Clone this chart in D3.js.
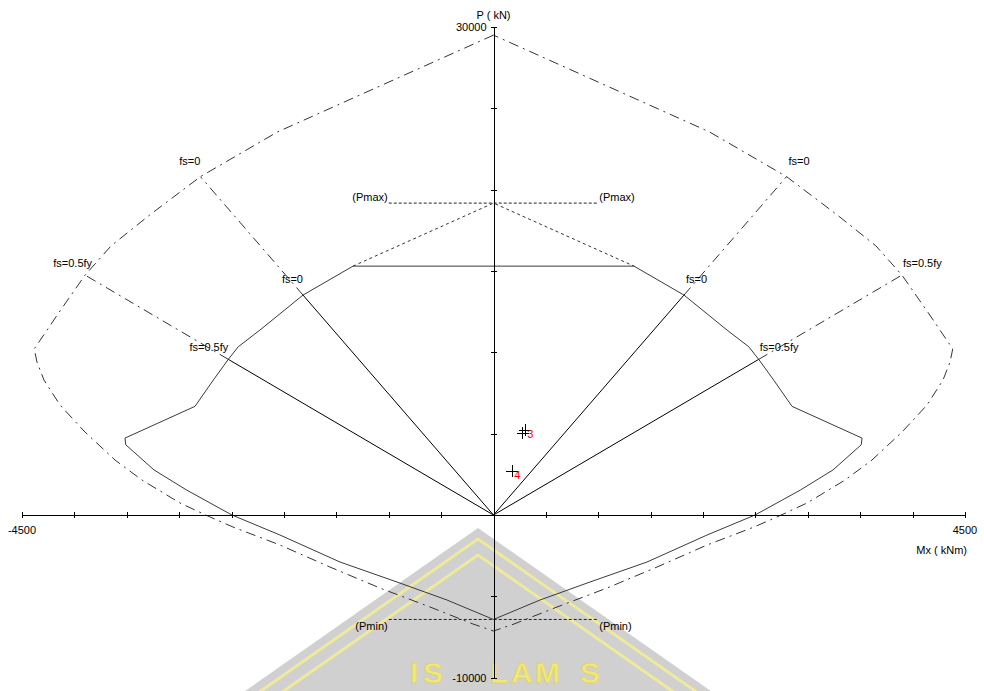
<!DOCTYPE html>
<html>
<head>
<meta charset="utf-8">
<script src="https://cdn.jsdelivr.net/npm/d3@7"></script>
<style>
  html, body { margin: 0; padding: 0; background: #fff; }
  svg { display: block; font-family: "Liberation Sans", Arial, sans-serif; }
</style>
</head>
<body>
<svg id="chart" width="984" height="691"></svg>
<script>
// ---- Axis limits and ticks ----
const mDomain = [-4500, 4500];          // Mx (kNm)
const pDomain = [-10000, 30000];        // P (kN)
const mTicks = d3.range(-4500, 4501, 500);
const pTicks = d3.range(-10000, 30001, 5000);
const mTickLabels = [-4500, 4500];
const pTickLabels = [30000, -10000];

// ---- Nominal strength envelope (Pn-Mn), left half, top to bottom ----
const nominalM = [0, -2063, -2797, -3282, -3649, -3898, -4134, -4383, -4357, -4290, -4137, -3899, -3612, -3355, -2992, -2705, -2486, -2038, -1561, -1084, -606, -196, 0];
const nominalP = [29500, 23545, 20800, 18440, 16550, 14750, 12575, 10210, 9403, 8297, 6761, 5101, 3380, 2151, 738, -123, -738, -1844, -3196, -4487, -5654, -6699, -7130];

// ---- Design strength envelope (phiPn-phiMn), left half, from the Pmax cap down ----
const designM = [-1341, -1818, -2229, -2436, -2531, -2674, -2849, -3517, -3510, -3240, -2930, -2496, -2038, -1465, -921, -444, 0];
const designP = [15300, 13520, 11370, 10344, 9570, 8297, 6680, 4730, 4320, 2770, 1540, 0, -1229, -2889, -4118, -5224, -6420];

// Unclipped design curve above the Pmax cap
const capM = [-1341, 0, 1341];
const capP = [15300, 19175, 15300];

// Limits
const pMax = 19175;
const pMin = -6420;
const limitSpanM = [-1000, 1000];

// Steel-stress reference lines (left side values, mirrored for the right)
const fsNames = ["fs=0", "fs=0.5fy"];
const fsDesignM = [-1818, -2531];
const fsDesignP = [13520, 9570];
const fsNominalM = [-2797, -3898];
const fsNominalP = [20800, 14750];

// Factored load points
const loadIds = ["", "3", "4"];
const loadM = [279, 302, 179];
const loadP = [5020, 5220, 2704];

// ---- Scales ----
const svg = d3.select("#chart");
const x = d3.scaleLinear().domain(mDomain).range([22, 965]);
const y = d3.scaleLinear().domain(pDomain).range([677.7, 27]);

const pts = (ms, ps) => ms.map((m, i) => [m, ps[i]]);
const mirror = arr => arr.map(([m, p]) => [-m, p]);
const line = d3.line().x(d => x(d[0])).y(d => y(d[1]));
const dashDot = "10,5,2,5";

// ---- Background emblem ----
const wm = svg.append("g").attr("class", "emblem");
const slope = 0.7, cx = 478, bottom = 720;
const chevron = (apexY) => [[cx - (bottom - apexY) / slope, bottom], [cx, apexY], [cx + (bottom - apexY) / slope, bottom]];
wm.append("polygon")
  .attr("points", chevron(528).map(p => p.join(",")).join(" "))
  .attr("fill", "#d0d0d0");
[539, 555].forEach(a => {
  wm.append("polyline")
    .attr("points", chevron(a).map(p => p.join(",")).join(" "))
    .attr("fill", "none").attr("stroke", "#efe99c").attr("stroke-width", 3);
});
// emblem lettering, one glyph per element
[["I", 410], ["S", 423], ["L", 490], ["A", 511], ["M", 535], ["S", 580]].forEach(([ch, lx]) => {
  wm.append("text")
    .attr("x", lx).attr("y", 683)
    .attr("font-size", 30).attr("font-weight", "bold")
    .attr("fill", "#f1e876").attr("stroke", "#dcd27a").attr("stroke-width", 0.8)
    .text(ch);
});

// ---- Envelopes ----
const nomLeft = pts(nominalM, nominalP);
const nomFull = nomLeft.concat(mirror(nomLeft).reverse());
svg.append("path").attr("d", line(nomFull))
  .attr("fill", "none").attr("stroke", "#333").attr("stroke-width", 1)
  .attr("stroke-dasharray", dashDot);

const desLeft = pts(designM, designP);
const desFull = desLeft.concat(mirror(desLeft).reverse());
svg.append("path").attr("d", line(desFull) + "Z")
  .attr("fill", "none").attr("stroke", "#3a3a3a").attr("stroke-width", 1);

svg.append("path").attr("d", line(pts(capM, capP)))
  .attr("fill", "none").attr("stroke", "#333").attr("stroke-width", 1)
  .attr("stroke-dasharray", "3,3");

// Pmax / Pmin limits
[[pMax, "(Pmax)", -2], [pMin, "(Pmin)", 11]].forEach(([p, name, dy]) => {
  svg.append("line")
    .attr("x1", x(limitSpanM[0])).attr("x2", x(limitSpanM[1]))
    .attr("y1", y(p)).attr("y2", y(p))
    .attr("stroke", "#222").attr("stroke-dasharray", "3,2");
  svg.append("text").attr("x", x(limitSpanM[0]) - 1).attr("y", y(p) + dy)
    .attr("text-anchor", "end").attr("font-size", 11).text(name);
  svg.append("text").attr("x", x(limitSpanM[1]) + 1).attr("y", y(p) + dy)
    .attr("text-anchor", "start").attr("font-size", 11).text(name);
});

// ---- Steel stress lines ----
// label offsets: [design, nominal] per side
const labelShift = {
  "fs=0":     { left: [0, 0], right: [2, 2], dy: -12 },
  "fs=0.5fy": { left: [0, 7], right: [1, 1], dy: -8 }
};
[-1, 1].forEach(side => {
  fsNames.forEach((name, i) => {
    const dp = fsDesignP[i];
    const dM = side < 0 ? fsDesignM[i] : -fsDesignM[i];
    const nM = side < 0 ? fsNominalM[i] : -fsNominalM[i];
    svg.append("line")
      .attr("x1", x(0)).attr("y1", y(0)).attr("x2", x(dM)).attr("y2", y(dp))
      .attr("stroke", "#000").attr("stroke-width", 1);
    svg.append("line")
      .attr("x1", x(dM)).attr("y1", y(dp)).attr("x2", x(nM)).attr("y2", y(fsNominalP[i]))
      .attr("stroke", "#333").attr("stroke-width", 1).attr("stroke-dasharray", dashDot);
    const s = labelShift[name];
    [[dM, dp], [nM, fsNominalP[i]]].forEach(([m, p], k) => {
      svg.append("text")
        .attr("x", x(m) + (side < 0 ? s.left[k] : s.right[k]))
        .attr("y", y(p) + s.dy)
        .attr("text-anchor", side < 0 ? "end" : "start")
        .attr("font-size", 11).text(name);
    });
  });
});

// ---- Axes ----
const xAxis = svg.append("g").attr("transform", `translate(0,${y(0)})`)
  .call(d3.axisBottom(x).tickValues(mTicks).tickSizeOuter(0).tickSize(3).tickFormat(""));
xAxis.selectAll(".tick line").attr("y1", -3).attr("y2", 3);
xAxis.select(".domain").attr("stroke", "#000");
xAxis.selectAll("line").attr("stroke", "#000");

const yAxis = svg.append("g").attr("transform", `translate(${x(0)},0)`)
  .call(d3.axisLeft(y).tickValues(pTicks).tickSizeOuter(0).tickSize(3).tickFormat(""));
yAxis.selectAll(".tick line").attr("x1", -3).attr("x2", 3);
yAxis.select(".domain").attr("stroke", "#000");
yAxis.selectAll("line").attr("stroke", "#000");
svg.selectAll(".domain, .tick line").attr("shape-rendering", "crispEdges");

mTickLabels.forEach(v => {
  svg.append("text").attr("x", x(v)).attr("y", y(0) + 19)
    .attr("text-anchor", "middle").attr("font-size", 11).text(String(v));
});
pTickLabels.forEach(v => {
  svg.append("text").attr("x", x(0) - 7).attr("y", y(v) + 4)
    .attr("text-anchor", "end").attr("font-size", 11).text(String(v));
});
svg.append("text").attr("x", x(0)).attr("y", 19)
  .attr("text-anchor", "middle").attr("font-size", 11).text("P ( kN)");
svg.append("text").attr("x", 967).attr("y", 554)
  .attr("text-anchor", "end").attr("font-size", 11).text("Mx ( kNm)");

// ---- Load points ----
loadIds.forEach((id, i) => {
  const px = x(loadM[i]), py = y(loadP[i]);
  svg.append("path").attr("d", `M${px - 6},${py}H${px + 6}M${px},${py - 6}V${py + 6}`)
    .attr("stroke", "#000").attr("stroke-width", 1).attr("shape-rendering", "crispEdges");
  if (id) {
    svg.append("text").attr("x", px + 2).attr("y", py + 8)
      .attr("font-size", 11).attr("fill", "#ff0000").text(id);
  }
});
</script>
</body>
</html>
